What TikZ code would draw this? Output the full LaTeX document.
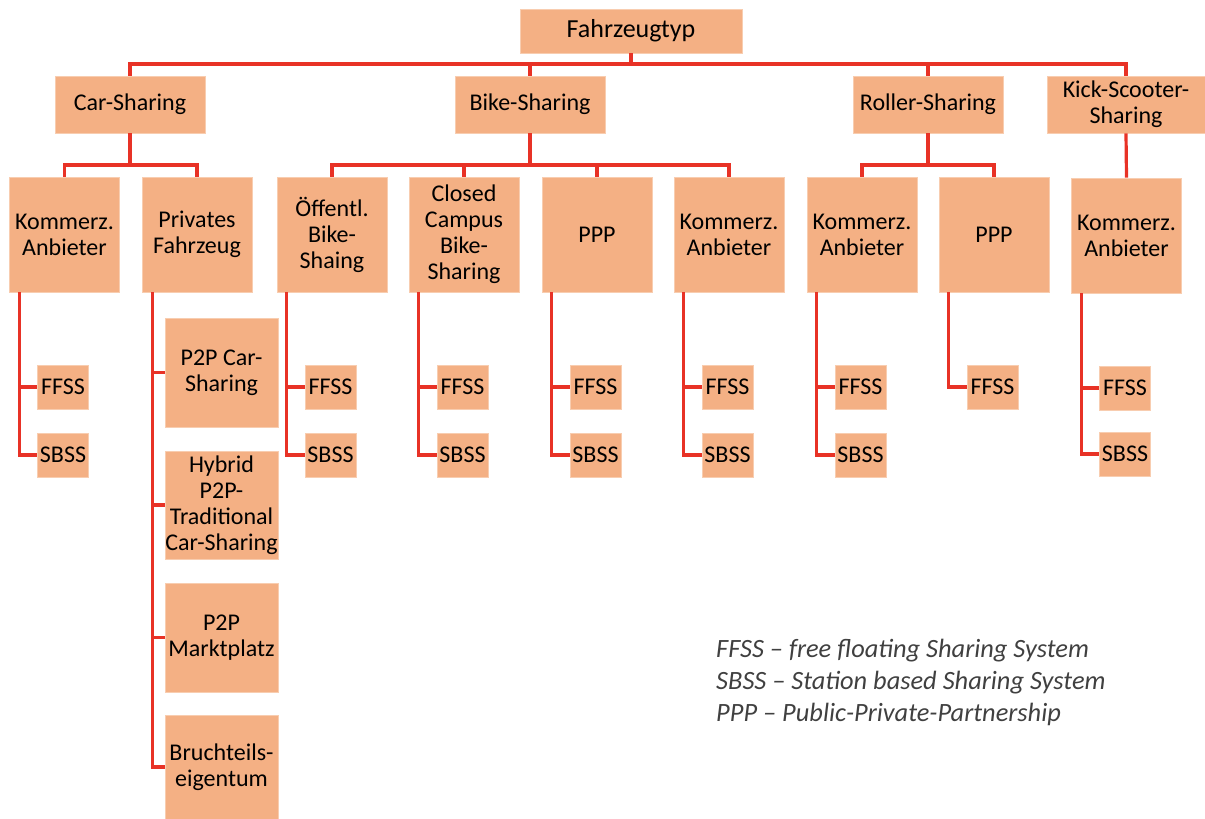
\documentclass[tikz,border=0pt]{standalone}
\usepackage{fontspec}
\setmainfont{Carlito}
\definecolor{boxfill}{RGB}{244,176,132}
\definecolor{boxedge}{RGB}{248,205,176}
\definecolor{conn}{RGB}{232,50,38}
\definecolor{legendgray}{RGB}{64,64,64}
\tikzset{
 box/.style={fill=boxfill, draw=boxedge, line width=0.8pt, inner sep=0pt, align=center, font=\fontsize{24}{26}\selectfont, text=black},
 lvlone/.style={box, minimum width=150pt, minimum height=57pt},
 lvltwo/.style={box, minimum width=110pt, minimum height=115pt},
 leaf/.style={box, minimum width=51pt, minimum height=44pt},
 pbox/.style={box, minimum width=113pt, minimum height=108pt},
 link/.style={draw=conn, line width=3.2pt},
 legendtext/.style={font=\fontsize{26.4}{32}\selectfont\itshape, text=legendgray, anchor=west, inner sep=0pt},
}
\begin{document}
\begin{tikzpicture}[x=1pt,y=-1pt]
\useasboundingbox (0,0) rectangle (1205,819);
% root and level 1
\node[box, minimum width=222pt, minimum height=44pt, font=\fontsize{26}{28}\selectfont] (root) at (631,31) {Fahrzeugtyp};
\node[lvlone] (car) at (130,104.5) {Car-Sharing};
\node[lvlone] (bike) at (530,104.5) {Bike-Sharing};
\node[lvlone] (roller) at (928,104.5) {Roller-Sharing};
\node[lvlone, minimum width=158pt] (kick) at (1126,104.5) {Kick-Scooter-\\Sharing};
% level 2
\node[lvltwo] (carK) at (64.5,234.5) {Kommerz.\\Anbieter};
\node[lvltwo] (priv) at (197,234.5) {Privates\\Fahrzeug};
\node[lvltwo] (oeff) at (332,234.5) {Öffentl.\\Bike-\\Shaing};
\node[lvltwo] (closed) at (464,234.5) {Closed\\Campus\\Bike-\\Sharing};
\node[lvltwo] (pppB) at (597,234.5) {PPP};
\node[lvltwo] (bikeK) at (729,234.5) {Kommerz.\\Anbieter};
\node[lvltwo] (rolK) at (862,234.5) {Kommerz.\\Anbieter};
\node[lvltwo] (rolP) at (994,234.5) {PPP};
\node[lvltwo] (kickK) at (1126.5,235.5) {Kommerz.\\Anbieter};
% leaves
\node[leaf] (cf) at (63,387) {FFSS};
\node[leaf] (cs) at (63,455) {SBSS};
\node[leaf] (of) at (330.5,387) {FFSS};
\node[leaf] (os) at (330.5,455) {SBSS};
\node[leaf] (clf) at (462.5,387) {FFSS};
\node[leaf] (cls) at (462.5,455) {SBSS};
\node[leaf] (pf) at (595.5,387) {FFSS};
\node[leaf] (ps) at (595.5,455) {SBSS};
\node[leaf] (bkf) at (727.5,387) {FFSS};
\node[leaf] (bks) at (727.5,455) {SBSS};
\node[leaf] (rkf) at (860.5,387) {FFSS};
\node[leaf] (rks) at (860.5,455) {SBSS};
\node[leaf] (rpf) at (992.5,387) {FFSS};
\node[leaf] (kkf) at (1125,388) {FFSS};
\node[leaf] (kks) at (1125,454) {SBSS};
% private car sharing variants
\node[pbox, minimum height=109pt] (p2p) at (221.5,372.5) {P2P Car-\\Sharing};
\node[pbox] (hyb) at (221.5,505) {Hybrid\\P2P-\\Traditional\\Car-Sharing};
\node[pbox, minimum height=109pt] (mkt) at (221.5,637.5) {P2P\\Marktplatz};
\node[pbox, minimum height=104pt] (bru) at (221.5,767) {Bruchteils-\\eigentum};
% connectors level 0-1
\coordinate (bA) at (0,64);
\draw[link] (root.south) -- (root.south |- bA);
\draw[link] (car.north) -- (car.north |- bA) -- (kick.north |- bA) -- (kick.north);
\draw[link] (bike.north) -- (bike.north |- bA);
\draw[link] (roller.north) -- (roller.north |- bA);
% connectors level 1-2
\coordinate (bB) at (0,165);
\draw[link] (car.south) -- (car.south |- bB);
\draw[link] (carK.north) -- (carK.north |- bB) -- (priv.north |- bB) -- (priv.north);
\draw[link] (bike.south) -- (bike.south |- bB);
\draw[link] (oeff.north) -- (oeff.north |- bB) -- (bikeK.north |- bB) -- (bikeK.north);
\draw[link] (closed.north) -- (closed.north |- bB);
\draw[link] (pppB.north) -- (pppB.north |- bB);
\draw[link] (roller.south) -- (roller.south |- bB);
\draw[link] (rolK.north) -- (rolK.north |- bB) -- (rolP.north |- bB) -- (rolP.north);
\draw[link] (kick.south) -- (kickK.north);
% connectors level 2-3
\draw[link] ([xshift=10pt]carK.south west) |- (cf.west);
\draw[link] ([xshift=10pt]carK.south west) |- (cs.west);
\draw[link] ([xshift=10pt]oeff.south west) |- (of.west);
\draw[link] ([xshift=10pt]oeff.south west) |- (os.west);
\draw[link] ([xshift=10pt]closed.south west) |- (clf.west);
\draw[link] ([xshift=10pt]closed.south west) |- (cls.west);
\draw[link] ([xshift=10pt]pppB.south west) |- (pf.west);
\draw[link] ([xshift=10pt]pppB.south west) |- (ps.west);
\draw[link] ([xshift=10pt]bikeK.south west) |- (bkf.west);
\draw[link] ([xshift=10pt]bikeK.south west) |- (bks.west);
\draw[link] ([xshift=10pt]rolK.south west) |- (rkf.west);
\draw[link] ([xshift=10pt]rolK.south west) |- (rks.west);
\draw[link] ([xshift=10pt]rolP.south west) |- (rpf.west);
\draw[link] ([xshift=10pt]kickK.south west) |- (kkf.west);
\draw[link] ([xshift=10pt]kickK.south west) |- (kks.west);
\draw[link] ([xshift=11pt]priv.south west) |- (p2p.west);
\draw[link] ([xshift=11pt]priv.south west) |- (hyb.west);
\draw[link] ([xshift=11pt]priv.south west) |- (mkt.west);
\draw[link] ([xshift=11pt]priv.south west) |- (bru.west);
% legend
\node[legendtext] (lA) at (716,651) {FFSS – free floating Sharing System};
\node[legendtext] (lB) at (716,683) {SBSS – Station based Sharing System};
\node[legendtext] (lC) at (716,714) {PPP – Public-Private-Partnership};
\end{tikzpicture}
\end{document}
